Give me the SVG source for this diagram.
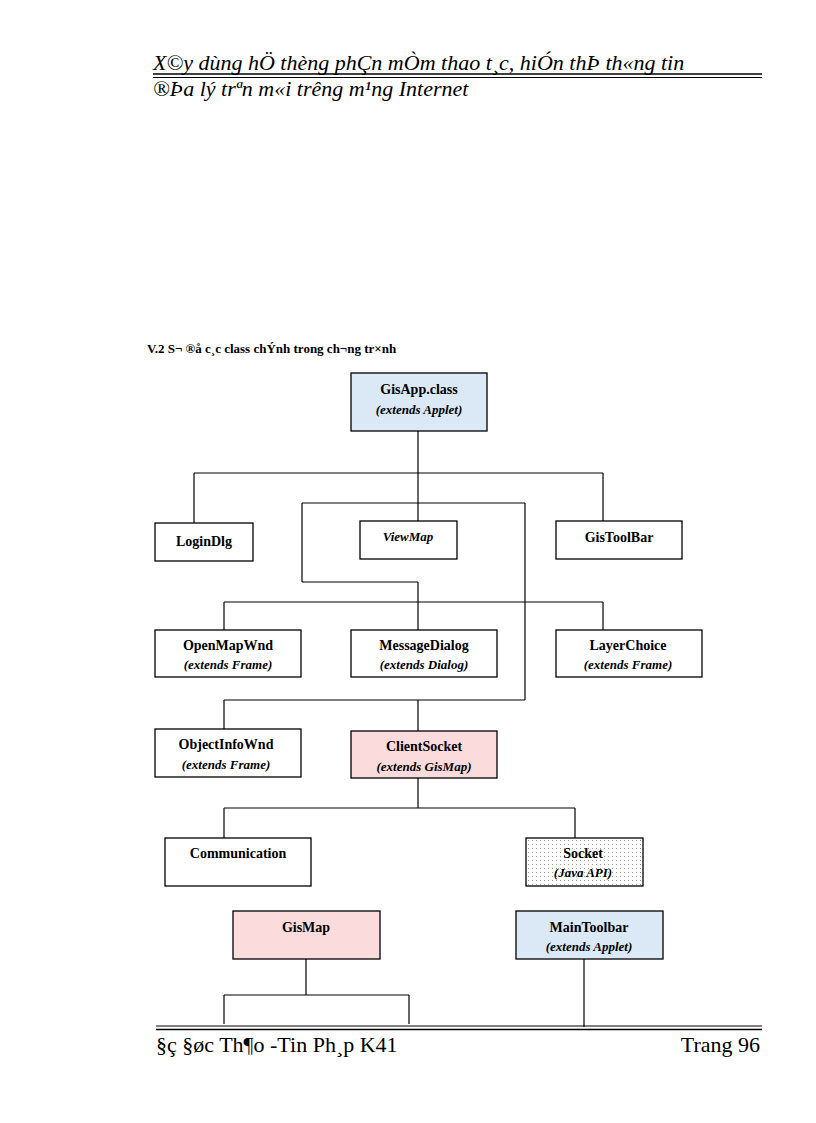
<svg xmlns="http://www.w3.org/2000/svg" width="816" height="1123" viewBox="0 0 816 1123">
<style>
.b{stroke:#000;stroke-width:1.3}
.t{font-family:"Liberation Serif",serif;font-size:14px;text-anchor:middle;font-weight:bold}
.i{font-family:"Liberation Serif",serif;font-size:13px;text-anchor:middle;font-style:italic;font-weight:bold}
.c line{stroke:#000;stroke-width:1.2}
.h{font-family:"Liberation Serif",serif;font-size:22px}
</style>
<defs>
<pattern id="dots" width="4" height="4" patternUnits="userSpaceOnUse"><rect width="4" height="4" fill="#fff"/><rect width="1" height="1" fill="#999"/></pattern>
</defs>
<rect width="816" height="1123" fill="#fff"/>
<text class="h" x="153" y="70" font-style="italic">X©y dùng hÖ thèng phÇn mÒm thao t¸c, hiÓn thÞ th«ng tin</text>
<line x1="153" y1="74" x2="762" y2="74" stroke="#000" stroke-width="1.5"/>
<line x1="153" y1="77.5" x2="762" y2="77.5" stroke="#000" stroke-width="1"/>
<text class="h" x="153" y="96" font-style="italic">®Þa lý tr­ªn m«i tr­êng  m¹ng Internet</text>
<text x="147" y="353" font-family="Liberation Serif,serif" font-size="13" font-weight="bold">V.2  S¬ ®å c¸c class chÝnh  trong ch­¬ng  tr×nh</text>
<g class="c" id="connectors">
<line x1="418" y1="431" x2="418" y2="521"/>
<line x1="194" y1="473" x2="603" y2="473"/>
<line x1="194" y1="473" x2="194" y2="523"/>
<line x1="603" y1="473" x2="603" y2="521"/>
<line x1="302" y1="503" x2="525" y2="503"/>
<line x1="302" y1="503" x2="302" y2="582"/>
<line x1="525" y1="503" x2="525" y2="700"/>
<line x1="302" y1="582" x2="418" y2="582"/>
<line x1="418" y1="582" x2="418" y2="630"/>
<line x1="224" y1="602" x2="603" y2="602"/>
<line x1="224" y1="602" x2="224" y2="630"/>
<line x1="603" y1="602" x2="603" y2="630"/>
<line x1="224" y1="700" x2="525" y2="700"/>
<line x1="224" y1="700" x2="224" y2="729"/>
<line x1="418" y1="700" x2="418" y2="731"/>
<line x1="418" y1="778" x2="418" y2="808"/>
<line x1="224" y1="808" x2="575" y2="808"/>
<line x1="224" y1="808" x2="224" y2="838"/>
<line x1="575" y1="808" x2="575" y2="838"/>
<line x1="306" y1="959" x2="306" y2="995"/>
<line x1="224" y1="995" x2="409" y2="995"/>
<line x1="224" y1="995" x2="224" y2="1024"/>
<line x1="409" y1="995" x2="409" y2="1024"/>
<line x1="584" y1="959" x2="584" y2="1027"/>
</g>
<g id="gisapp"><rect class="b" x="351" y="373" width="136" height="58" fill="#dbe8f5"/><text class="t" x="419" y="394">GisApp.class</text><text class="i" x="419" y="414">(extends Applet)</text></g>
<g id="logindlg"><rect class="b" x="155" y="523" width="98" height="38" fill="#fff"/><text class="t" x="204" y="546">LoginDlg</text></g>
<g id="viewmap"><rect class="b" x="360" y="521" width="97" height="38" fill="#fff"/><text class="i" x="408" y="541">ViewMap</text></g>
<g id="gistoolbar"><rect class="b" x="556" y="521" width="126" height="38" fill="#fff"/><text class="t" x="619" y="542">GisToolBar</text></g>
<g id="openmapwnd"><rect class="b" x="155" y="630" width="146" height="47" fill="#fff"/><text class="t" x="228" y="650">OpenMapWnd</text><text class="i" x="228" y="669">(extends Frame)</text></g>
<g id="messagedialog"><rect class="b" x="351" y="630" width="146" height="47" fill="#fff"/><text class="t" x="424" y="650">MessageDialog</text><text class="i" x="424" y="669">(extends Dialog)</text></g>
<g id="layerchoice"><rect class="b" x="556" y="630" width="146" height="47" fill="#fff"/><text class="t" x="628" y="650">LayerChoice</text><text class="i" x="628" y="669">(extends Frame)</text></g>
<g id="objectinfownd"><rect class="b" x="155" y="729" width="146" height="48" fill="#fff"/><text class="t" x="226" y="749">ObjectInfoWnd</text><text class="i" x="226" y="769">(extends Frame)</text></g>
<g id="clientsocket"><rect class="b" x="351" y="731" width="146" height="47" fill="#fbdbdb"/><text class="t" x="424" y="751">ClientSocket</text><text class="i" x="424" y="771">(extends GisMap)</text></g>
<g id="communication"><rect class="b" x="165" y="838" width="146" height="48" fill="#fff"/><text class="t" x="238" y="858">Communication</text></g>
<g id="socket"><rect class="b" x="526" y="838" width="117" height="48" fill="url(#dots)"/><text class="t" x="583" y="858">Socket</text><text class="i" x="583" y="877">(Java API)</text></g>
<g id="gismap"><rect class="b" x="233" y="911" width="147" height="48" fill="#fbdbdb"/><text class="t" x="306" y="932">GisMap</text></g>
<g id="maintoolbar"><rect class="b" x="516" y="911" width="147" height="48" fill="#dbe8f5"/><text class="t" x="589" y="932">MainToolbar</text><text class="i" x="589" y="951">(extends Applet)</text></g>
<line x1="156" y1="1026" x2="762" y2="1026" stroke="#000" stroke-width="1"/>
<line x1="156" y1="1029.5" x2="762" y2="1029.5" stroke="#000" stroke-width="1.5"/>
<text class="h" x="156" y="1052">§ç §øc Th¶o -Tin Ph¸p K41</text>
<text class="h" x="760" y="1052" text-anchor="end">Trang 96</text>
</svg>
